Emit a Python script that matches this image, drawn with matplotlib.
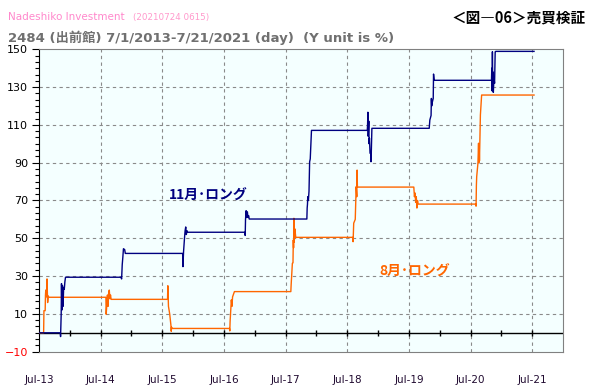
import matplotlib
matplotlib.use('Agg')
import matplotlib.pyplot as plt
from matplotlib.ticker import FixedLocator

# x = years since 7/1/2013 (Jul-13 = 0), y = return in %
year_labels = ['Jul-13', 'Jul-14', 'Jul-15', 'Jul-16', 'Jul-17',
               'Jul-18', 'Jul-19', 'Jul-20', 'Jul-21']

nov_x = [0.00, 0.345, 0.35, 0.36, 0.365, 0.37, 0.38, 0.39, 0.40, 0.41, 0.42, 0.43,
         1.33, 1.34, 1.35, 1.36, 1.37, 1.39, 1.40,
         2.33, 2.335, 2.345, 2.36, 2.37, 2.38, 2.39, 2.40, 2.41,
         3.34, 3.345, 3.35, 3.36, 3.37, 3.38, 3.39, 3.40, 3.41,
         4.345, 4.35, 4.355, 4.36, 4.37, 4.38, 4.39, 4.40, 4.42,
         5.325, 5.33, 5.335, 5.34, 5.35, 5.355, 5.36, 5.37, 5.38, 5.385, 5.39, 5.40,
         6.33, 6.34, 6.36, 6.365, 6.37, 6.38, 6.395, 6.40, 6.41,
         7.34, 7.345, 7.35, 7.355, 7.36, 7.365, 7.37, 7.38, 7.39, 7.40, 7.41,
         8.03]
nov_y = [0, 0, -2, 10, 26, 12, 25, 14, 24, 23, 27, 29.4,
         29.4, 28.5, 36, 40, 44.5, 44, 42,
         42, 35, 43, 50, 54, 56, 52, 54, 53.2,
         53.2, 51.5, 60, 64.6, 61, 64, 61, 62, 60.2,
         60.2, 66, 68, 72, 70, 75, 90.5, 92, 107.1,
         107.1, 110, 116.7, 104, 112, 100, 103, 95, 95, 90.5, 95, 108.2,
         108.2, 112.6, 115, 124, 120, 122, 124, 136.9, 133.6,
         133.6, 140, 128, 148.7, 130, 138, 127.2, 135, 132, 148.7, 148.9,
         148.9]

aug_x = [0.00, 0.075, 0.08, 0.10, 0.105, 0.11, 0.12, 0.13, 0.14, 0.15, 0.16,
         1.085, 1.09, 1.10, 1.11, 1.12, 1.13, 1.14, 1.15, 1.16, 1.17,
         2.085, 2.09, 2.10, 2.11, 2.12, 2.13, 2.14, 2.145, 2.15, 2.16,
         3.09, 3.095, 3.10, 3.12, 3.13, 3.14, 3.17,
         4.085, 4.09, 4.11, 4.12, 4.125, 4.13, 4.135, 4.14, 4.15, 4.165,
         5.09, 5.095, 5.105, 5.13, 5.145, 5.155, 5.16, 5.165,
         6.08, 6.09, 6.10, 6.11, 6.12, 6.13, 6.14, 6.15,
         7.085, 7.09, 7.095, 7.10, 7.12, 7.13, 7.135, 7.14, 7.145, 7.16, 7.18,
         8.03]
aug_y = [0, 0, 11.7, 11.7, 20, 22.6, 19, 28.5, 16, 19.5, 18.8,
         18.8, 9.8, 15, 20, 14, 21, 22.6, 18, 20, 17.7,
         17.7, 24.9, 14, 12, 10, 7, 4, 0.8, 3, 2.3,
         2.3, 1, 6, 17.4, 14, 19, 21.8,
         21.8, 25.3, 36.8, 37, 49.1, 45, 60.6, 48, 55, 50.5,
         50.5, 48.2, 58, 60, 77.3, 72, 86.1, 77.1,
         77.1, 72, 74, 69, 72, 66, 70, 68.1,
         68.1, 67, 78, 82.6, 89.7, 100.3, 90, 99, 91, 115.2, 125.8,
         125.8]

fig = plt.figure(figsize=(5.9, 3.9), dpi=100)
fig.patch.set_facecolor('white')
ax = fig.add_axes([39/590, 1 - 351.7/390, 524/590, 302.4/390])
ax.set_facecolor('#F4FFFF')

ax.set_xlim(0, 8.5)
ax.set_ylim(-10, 150)

# grid
grid_style = dict(color='#8a8a8a', lw=0.8, ls=(0, (3, 3)), zorder=1)
for gy in range(10, 150, 20):
    ax.axhline(gy, **grid_style)
for gx in range(1, 9):
    ax.axvline(gx, **grid_style)

# zero line with half-year ticks
ax.axhline(0, color='black', lw=1.0, zorder=2)
half_years = [i * 0.5 for i in range(1, 17)]
ax.vlines(half_years, -1.6, 1.6, color='black', lw=1.0, zorder=2)

ax.plot(aug_x, aug_y, color='#FF6600', lw=1.0, zorder=3)
ax.plot(nov_x, nov_y, color='#000080', lw=1.0, zorder=4)

# axes styling
for side in ['top', 'right', 'bottom']:
    ax.spines[side].set_color('#808080')
ax.spines['left'].set_color('black')

ax.set_yticks(range(-10, 151, 20))
ax.yaxis.set_minor_locator(FixedLocator([-10 + k * 20 / 6 for k in range(49)]))
ax.tick_params(axis='y', which='major', length=5, width=0.8, labelsize=8, pad=3)
ax.tick_params(axis='y', which='minor', length=3, width=0.8)
for lab in ax.get_yticklabels():
    lab.set_color('red' if lab.get_text() in ('-10', '−10') else 'black')

ax.set_xticks(range(len(year_labels)))
ax.set_xticklabels(year_labels, color='#200a30')
ax.tick_params(axis='x', length=0, labelsize=7.5, pad=17)

# annotations
ax.text(2.11, 72.6, '11月･ロング', color='#000080', fontsize=10, fontweight='bold',
        family=['Noto Sans CJK JP', 'DejaVu Sans'], va='center', ha='left', zorder=5)
ax.text(5.52, 32.4, '8月･ロング', color='#FF6600', fontsize=10, fontweight='bold',
        family=['Noto Sans CJK JP', 'DejaVu Sans'], va='center', ha='left', zorder=5)

# header texts
fig.text(7.5/590, 1 - 17/390, 'Nadeshiko Investment', color='#FF88CC', fontsize=7.5,
         va='center', ha='left')
fig.text(133/590, 1 - 17.5/390, '(20210724 0615)', color='#FF99CC', fontsize=6.3,
         va='center', ha='left')
fig.text(7.5/590, 1 - 38/390, '2484 (出前館) 7/1/2013-7/21/2021 (day)  (Y unit is %)',
         color='#707070', fontsize=9.5, fontweight='bold',
         family=['DejaVu Sans', 'Noto Sans CJK JP'], va='center', ha='left')
fig.text(586/590, 1 - 17/390, '＜図―06＞売買検証', color='black', fontsize=10.5,
         fontweight='bold', family=['Noto Sans CJK JP', 'DejaVu Sans'],
         va='center', ha='right')

fig.savefig('out.png', dpi=100)
